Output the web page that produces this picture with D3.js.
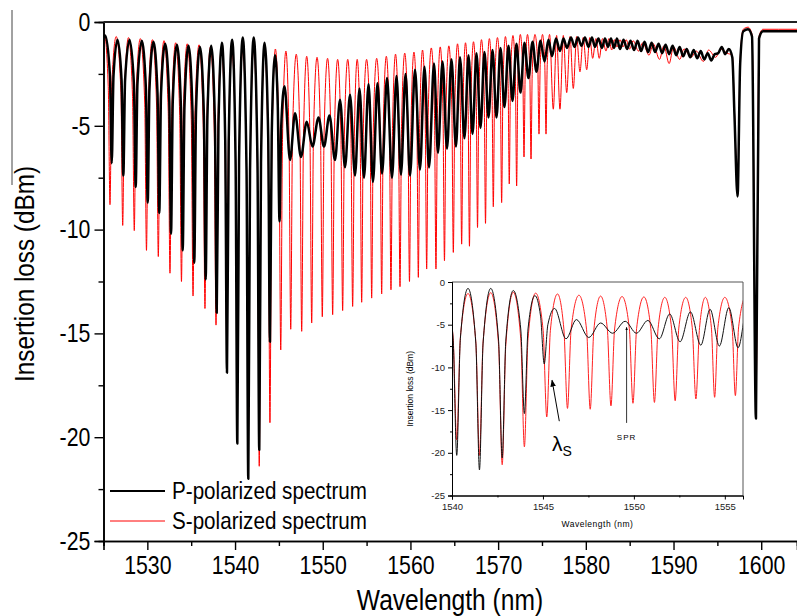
<!DOCTYPE html>
<html><head><meta charset="utf-8">
<script src="https://cdn.jsdelivr.net/npm/d3@7"></script>
<style>body{margin:0;background:#fff} svg{display:block}</style>
</head><body><svg id="c" width="797" height="616"></svg>
<script>
// ---------------- data ----------------
const xTicks = [1530, 1540, 1550, 1560, 1570, 1580, 1590, 1600];
const xMinor = [1525, 1535, 1545, 1555, 1565, 1575, 1585, 1595];
const yTicks = [0, -5, -10, -15, -20, -25];
const yMinor = [-2.5, -7.5, -12.5, -17.5, -22.5];
const insetXTicks = [1540, 1545, 1550, 1555];
const insetXMinor = [1542.5, 1547.5, 1552.5];
const insetYTicks = [0, -5, -10, -15, -20, -25];
const insetYMinor = [-2.5, -7.5, -12.5, -17.5, -22.5];
const seriesNames = ["P-polarized spectrum", "S-polarized spectrum"];

// S-polarized spectrum: wavelength (nm) of peaks / dips and insertion loss (dBm)
const sWl = [1525.0,1525.1,1525.74,1526.45,1527.19,1527.85,1528.51,1529.2,1529.9,1530.58,
  1531.25,1531.9,1532.58,1533.23,1533.89,1534.55,1535.21,1535.9,1536.57,1537.2,
  1537.83,1538.45,1539.05,1539.65,1540.26,1540.88,1541.51,1542.13,1542.76,1543.37,
  1543.98,1544.6,1545.21,1545.8,1546.35,1546.98,1547.6,1548.17,1548.74,1549.35,
  1549.95,1550.55,1551.13,1551.7,1552.27,1552.85,1553.41,1553.93,1554.44,1555.0,
  1555.58,1556.15,1556.72,1557.25,1557.78,1558.3,1558.81,1559.35,1559.89,1560.4,
  1560.9,1561.38,1561.85,1562.38,1562.91,1563.4,1563.88,1564.38,1564.89,1565.37,
  1565.84,1566.28,1566.73,1567.19,1567.65,1568.1,1568.56,1569.0,1569.45,1569.92,
  1570.4,1570.83,1571.27,1571.69,1572.11,1572.53,1572.95,1573.35,1573.75,1574.2,
  1574.66,1575.06,1575.46,1575.87,1576.29,1576.67,1577.05,1577.43,1577.82,1578.2,
  1578.57,1578.95,1579.33,1579.7,1580.1,1580.45,1580.78,1581.15,1581.53,1581.9,
  1582.3,1582.63,1582.95,1583.25,1583.55,1583.9,1584.24,1584.6,1585.0,1585.4,
  1586.0,1586.5,1587.2,1587.7,1588.4,1588.9,1589.5,1590.0,1590.7,1591.2,
  1592.0,1592.6,1593.4,1594.0,1594.8,1595.4,1596.1,1596.7,1596.95,1597.3,
  1597.6,1597.95,1598.5,1598.95,1599.4,1599.75,1600.2,1602.0,1604.1];
const sDb = [-0.7,-0.6,-8.8,-0.7,-9.8,-0.75,-10.05,-0.8,-11.0,-0.85,
  -11.3,-0.9,-12.1,-1.0,-12.5,-1.05,-13.2,-1.1,-13.8,-1.2,
  -14.6,-1.3,-15.3,-1.4,-18.5,-1.35,-20.3,-1.25,-21.4,-1.2,
  -19.3,-1.3,-15.8,-1.4,-14.8,-1.55,-14.9,-1.65,-14.5,-1.7,
  -14.2,-1.75,-14.1,-1.8,-13.9,-1.8,-13.7,-1.8,-13.5,-1.8,
  -13.3,-1.75,-13.1,-1.65,-12.9,-1.55,-12.75,-1.5,-12.5,-1.45,
  -12.3,-1.35,-11.9,-1.25,-11.9,-1.2,-11.5,-1.15,-11.1,-1.05,
  -10.7,-1.0,-10.8,-0.95,-9.9,-0.85,-9.7,-0.8,-8.9,-0.75,
  -8.7,-0.7,-7.8,-0.65,-7.9,-0.6,-6.5,-0.6,-6.6,-0.6,
  -5.4,-0.6,-5.4,-0.6,-4.2,-0.65,-4.2,-0.65,-3.4,-0.7,
  -3.2,-0.7,-2.4,-0.75,-2.3,-0.75,-1.75,-0.8,-1.75,-0.8,
  -1.4,-0.8,-1.35,-0.85,-1.2,-0.85,-1.2,-0.85,-1.3,-0.9,
  -1.4,-1.0,-1.6,-1.05,-1.8,-1.15,-2.0,-1.2,-1.8,-1.3,
  -1.7,-1.4,-1.9,-1.35,-1.7,-1.3,-1.5,-1.6,-4.3,-8.0,
  -1.8,-0.35,-0.25,-0.6,-18.5,-0.7,-0.35,-0.35,-0.35];
// S-polarized: points on the flanks of each resonance dip
const sFlankWl = [1525.54,1525.94,1526.99,1527.39,1528.31,1528.71,1529.7,1530.1,1531.05,1531.45,
  1532.38,1532.78,1533.69,1534.09,1535.01,1535.41,1536.37,1536.77,1537.63,1538.03,
  1538.85,1539.25,1540.06,1540.46,1541.31,1541.71,1542.56,1542.96,1543.78,1544.18,
  1545.01,1545.41,1546.15,1546.55,1547.4,1547.8,1548.54,1548.94,1549.75,1550.15,
  1550.93,1551.33,1552.07,1552.47,1553.21,1553.61,1554.26,1554.62,1555.4,1555.76,
  1556.54,1556.9,1557.6,1557.96,1558.63,1558.99,1559.71,1560.07,1560.73,1561.07,
  1561.68,1562.02,1562.74,1563.08,1563.71,1564.05,1564.72,1565.06,1565.68,1566.0,
  1566.57,1566.89,1567.5,1567.8,1568.41,1568.71,1569.3,1569.6,1570.25,1570.55,
  1571.13,1571.41,1571.97,1572.25,1572.81,1573.09,1573.61,1573.89,1574.52,1574.8,
  1575.32,1575.6];
const sFlankDb = [-3.1,-3.1,-3.4,-3.4,-3.6,-3.6,-3.9,-3.9,-4.0,-4.0,
  -4.3,-4.3,-4.5,-4.5,-4.7,-4.7,-4.95,-4.95,-5.25,-5.25,
  -5.55,-5.55,-6.5,-6.5,-7.0,-7.0,-7.3,-7.3,-6.65,-6.65,
  -5.65,-5.65,-5.5,-5.5,-5.6,-5.6,-5.5,-5.5,-5.45,-5.45,
  -5.45,-5.45,-5.4,-5.4,-5.35,-5.35,-5.3,-5.3,-5.25,-5.25,
  -5.1,-5.1,-5.0,-5.0,-4.9,-4.9,-4.8,-4.8,-4.65,-4.65,
  -4.5,-4.5,-4.4,-4.4,-4.3,-4.3,-4.1,-4.1,-3.9,-3.9,
  -3.9,-3.9,-3.6,-3.6,-3.5,-3.5,-3.2,-3.2,-3.1,-3.1,
  -2.8,-2.8,-2.8,-2.8,-2.4,-2.4,-2.4,-2.4,-2.05,-2.05,
  -2.05,-2.05];

// P-polarized spectrum
const pWl = [1525.0,1525.2,1525.94,1526.6,1527.26,1527.97,1528.67,1529.36,1530.04,1530.7,
  1531.36,1532.03,1532.7,1533.37,1534.03,1534.69,1535.35,1536.0,1536.65,1537.28,
  1537.91,1538.5,1539.08,1539.67,1540.26,1540.88,1541.51,1542.13,1542.76,1543.37,
  1543.98,1544.56,1545.07,1545.64,1546.27,1546.84,1547.52,1548.17,1548.83,1549.52,
  1550.14,1550.77,1551.4,1551.97,1552.54,1553.11,1553.68,1554.19,1554.7,1555.22,
  1555.73,1556.24,1556.76,1557.33,1557.9,1558.41,1558.92,1559.44,1559.95,1560.52,
  1561.09,1561.6,1562.12,1562.69,1563.14,1563.66,1564.17,1564.68,1565.19,1565.65,
  1566.16,1566.62,1567.08,1567.53,1567.99,1568.44,1568.9,1569.36,1569.81,1570.27,
  1570.72,1571.18,1571.64,1572.09,1572.55,1573.0,1573.46,1573.92,1574.37,1574.83,
  1575.29,1575.74,1576.14,1576.6,1577.05,1577.45,1577.85,1578.31,1578.71,1579.1,
  1579.5,1579.9,1580.3,1580.7,1581.04,1581.44,1581.84,1582.18,1582.53,1582.87,
  1583.21,1583.55,1583.89,1584.3,1584.7,1585.1,1585.5,1585.9,1586.3,1586.7,
  1587.1,1587.5,1587.9,1588.3,1588.7,1589.1,1589.5,1589.9,1590.3,1590.7,
  1591.1,1591.5,1591.9,1592.3,1592.7,1593.1,1593.5,1593.9,1594.3,1594.7,
  1595.1,1595.5,1595.9,1596.3,1596.7,1596.95,1597.3,1597.6,1597.95,1598.5,
  1598.95,1599.4,1599.75,1600.2,1602.0,1604.1];
const pDb = [-0.75,-0.65,-6.8,-0.85,-7.4,-0.85,-7.95,-0.9,-8.7,-0.95,
  -9.2,-1.05,-10.2,-1.1,-11.0,-1.15,-11.6,-1.2,-12.4,-1.15,
  -14.0,-1.0,-16.9,-0.85,-20.3,-0.75,-22.0,-0.75,-20.6,-1.0,
  -15.4,-1.6,-9.6,-3.1,-6.65,-4.4,-6.5,-4.8,-6.0,-4.6,
  -6.0,-4.5,-6.65,-3.75,-7.0,-3.5,-7.4,-3.2,-7.5,-3.0,
  -7.7,-2.95,-7.3,-2.7,-7.5,-2.6,-7.35,-2.5,-7.4,-2.3,
  -7.1,-2.15,-7.0,-2.0,-6.3,-1.9,-6.1,-1.8,-6.0,-1.7,
  -5.6,-1.6,-5.4,-1.5,-5.1,-1.45,-4.6,-1.35,-4.6,-1.25,
  -4.1,-1.15,-3.8,-1.05,-3.4,-1.0,-2.7,-0.95,-2.4,-0.9,
  -1.9,-0.85,-1.65,-0.8,-1.4,-0.8,-1.25,-0.75,-1.2,-0.75,
  -1.15,-0.75,-1.2,-0.75,-1.2,-0.8,-1.25,-0.8,-1.2,-0.8,
  -1.25,-0.8,-1.3,-0.85,-1.3,-0.9,-1.35,-0.9,-1.4,-0.95,
  -1.45,-1.0,-1.45,-1.05,-1.5,-1.1,-1.55,-1.15,-1.6,-1.2,
  -1.65,-1.3,-1.7,-1.35,-1.75,-1.4,-1.8,-1.5,-1.85,-1.55,
  -1.5,-1.2,-1.55,-1.3,-1.7,-4.5,-8.4,-2.0,-0.45,-0.35,
  -0.7,-19.1,-0.8,-0.45,-0.45,-0.45];
// P-polarized: points on the flanks of the deep dips
const pFlankWl = [1525.74,1526.14,1527.06,1527.46,1528.47,1528.87,1529.84,1530.24,1531.16,1531.56,
  1532.5,1532.9,1533.83,1534.23,1535.15,1535.55,1536.45,1536.85,1537.71,1538.11,
  1538.88,1539.28,1540.06,1540.46,1541.31,1541.71,1542.56,1542.96,1543.78,1544.18,
  1544.87,1545.27];
const pFlankDb = [-2.6,-2.6,-2.8,-2.8,-3.0,-3.0,-3.25,-3.25,-3.45,-3.45,
  -3.8,-3.8,-4.1,-4.1,-4.3,-4.3,-4.55,-4.55,-4.95,-4.95,
  -5.7,-5.7,-6.65,-6.65,-7.15,-7.15,-6.8,-6.8,-5.5,-5.5,
  -4.0,-5.0];

// ---------------- drawing ----------------
const svg = d3.select("#c");
const FONT = "'Liberation Sans',Arial,sans-serif";
const NARROW = 0.82;   // the reference lettering is a condensed sans
const byWl = (a, b) => a[0] - b[0];
const sData = d3.zip(sWl, sDb).concat(d3.zip(sFlankWl, sFlankDb)).sort(byWl);
const pData = d3.zip(pWl, pDb).concat(d3.zip(pFlankWl, pFlankDb)).sort(byWl);

const L = 103.5, R = 797, T = 22, B = 541;
const x = d3.scaleLinear().domain([1525, 1604.08]).range([L, R]);
const y = d3.scaleLinear().domain([-25, 0]).range([B, T]);
const defs = svg.append("defs");
defs.append("clipPath").attr("id", "mainClip")
  .append("rect").attr("x", L).attr("y", T - 2).attr("width", R - L).attr("height", B - T + 2);

const line = (sx, sy) => d3.line().x(d => sx(d[0])).y(d => sy(d[1])).curve(d3.curveMonotoneX);

const gMain = svg.append("g").attr("clip-path", "url(#mainClip)");
gMain.append("path").datum(sData).attr("d", line(x, y)).attr("fill", "none")
  .attr("stroke", "#ff0000").attr("stroke-width", 1);
gMain.append("path").datum(pData).attr("d", line(x, y)).attr("fill", "none")
  .attr("stroke", "#000").attr("stroke-width", 2.5).attr("stroke-linejoin", "round");

// axes
const fmt = d => String(d);
const gy = svg.append("g").attr("transform", `translate(${L},0)`)
  .call(d3.axisLeft(y).tickValues(yTicks).tickSize(9).tickPadding(7).tickFormat(fmt));
svg.append("g").attr("transform", `translate(${L},0)`)
  .call(d3.axisLeft(y).tickValues(yMinor).tickSize(5).tickFormat(""));
const gx = svg.append("g").attr("transform", `translate(0,${B})`)
  .call(d3.axisBottom(x).tickValues(xTicks).tickSize(9).tickPadding(6).tickFormat(fmt));
svg.append("g").attr("transform", `translate(0,${B})`)
  .call(d3.axisBottom(x).tickValues(xMinor).tickSize(5).tickFormat(""));
svg.selectAll(".domain").attr("stroke-width", 1.6);
svg.selectAll(".tick line").attr("stroke-width", 1.4);
gy.selectAll("text").attr("font-family", FONT).attr("font-size", 26).attr("fill", "#000")
  .attr("transform", `scale(${NARROW},1)`);
gx.selectAll("text").attr("font-family", FONT).attr("font-size", 26).attr("fill", "#000")
  .attr("transform", `scale(${NARROW},1)`);
// top frame
svg.append("line").attr("x1", L).attr("x2", R).attr("y1", T).attr("y2", T)
  .attr("stroke", "#222").attr("stroke-width", 1.8);

svg.append("text").attr("transform", `translate(450,610) scale(${NARROW},1)`).attr("text-anchor", "middle")
  .attr("font-family", FONT).attr("font-size", 30).text("Wavelength (nm)");
svg.append("text").attr("transform", `translate(34,274) rotate(-90) scale(0.9,1)`).attr("text-anchor", "middle")
  .attr("font-family", FONT).attr("font-size", 27).text("Insertion loss (dBm)");
svg.append("line").attr("x1", 12).attr("x2", 12).attr("y1", 10).attr("y2", 185)
  .attr("stroke", "#444").attr("stroke-width", 1);

// legend
const leg = [{name: seriesNames[0], color: "#000", w: 2}, {name: seriesNames[1], color: "#ff0000", w: 1}];
leg.forEach((d, i) => {
  const yy = 491 + i * 30;
  svg.append("line").attr("x1", 110).attr("x2", 165).attr("y1", yy).attr("y2", yy)
    .attr("stroke", d.color).attr("stroke-width", d.w);
  svg.append("text").attr("transform", `translate(172,${yy + 8}) scale(0.86,1)`).attr("font-family", FONT)
    .attr("font-size", 24).text(d.name);
});

// ---------------- inset ----------------
const IL = 452, IR = 743, IT = 282, IB = 495.5;
const ix = d3.scaleLinear().domain([1540, 1556]).range([IL, IR]);
const iy = d3.scaleLinear().domain([-25, 0]).range([IB, IT]);
svg.append("rect").attr("x", IL).attr("y", IT).attr("width", IR - IL).attr("height", IB - IT).attr("fill", "#fff");
defs.append("clipPath").attr("id", "insetClip")
  .append("rect").attr("x", IL).attr("y", IT).attr("width", IR - IL).attr("height", IB - IT);
const gIn = svg.append("g").attr("clip-path", "url(#insetClip)");
gIn.append("path").datum(sData).attr("d", line(ix, iy)).attr("fill", "none")
  .attr("stroke", "#ff2020").attr("stroke-width", 1);
gIn.append("path").datum(pData).attr("d", line(ix, iy)).attr("fill", "none")
  .attr("stroke", "#111").attr("stroke-width", 1);
svg.append("line").attr("x1", IL).attr("x2", IR).attr("y1", IT).attr("y2", IT).attr("stroke", "#555");
svg.append("line").attr("x1", IR).attr("x2", IR).attr("y1", IT).attr("y2", IB).attr("stroke", "#555");
const igy = svg.append("g").attr("transform", `translate(${IL},0)`)
  .call(d3.axisLeft(iy).tickValues(insetYTicks).tickSize(4).tickPadding(3).tickFormat(fmt));
svg.append("g").attr("transform", `translate(${IL},0)`)
  .call(d3.axisLeft(iy).tickValues(insetYMinor).tickSize(2).tickFormat(""));
const igx = svg.append("g").attr("transform", `translate(0,${IB})`)
  .call(d3.axisBottom(ix).tickValues(insetXTicks).tickSize(4).tickPadding(4).tickFormat(fmt));
svg.append("g").attr("transform", `translate(0,${IB})`)
  .call(d3.axisBottom(ix).tickValues(insetXMinor).tickSize(2).tickFormat(""));
[igy, igx].forEach(g => g.selectAll("text").attr("font-family", FONT)
  .attr("font-size", 9.5).attr("fill", "#222"));
svg.append("text").attr("x", (IL + IR) / 2).attr("y", 527).attr("text-anchor", "middle")
  .attr("font-family", FONT).attr("font-size", 8.5)
  .attr("letter-spacing", 0.5).text("Wavelength (nm)");
svg.append("text").attr("transform", `translate(413,${(IT + IB) / 2}) rotate(-90)`).attr("text-anchor", "middle")
  .attr("font-family", FONT).attr("font-size", 8.5).text("Insertion loss (dBm)");

// annotations
defs.append("marker").attr("id", "arr").attr("viewBox", "0 0 10 10").attr("refX", 9).attr("refY", 5)
  .attr("markerWidth", 7).attr("markerHeight", 7).attr("orient", "auto")
  .append("path").attr("d", "M0,1 L10,5 L0,9 Z").attr("fill", "#000");
defs.append("marker").attr("id", "arr2").attr("viewBox", "0 0 10 10").attr("refX", 9).attr("refY", 5)
  .attr("markerWidth", 4).attr("markerHeight", 4).attr("orient", "auto")
  .append("path").attr("d", "M0,1 L10,5 L0,9 Z").attr("fill", "#000");
svg.append("line").attr("x1", ix(1545.9)).attr("y1", iy(-16.3)).attr("x2", ix(1545.5)).attr("y2", iy(-11.5))
  .attr("stroke", "#000").attr("stroke-width", 1).attr("marker-end", "url(#arr)");
const lam = svg.append("text").attr("x", ix(1545.5)).attr("y", iy(-19.8))
  .attr("font-family", FONT).attr("font-size", 21).text("λ");
lam.append("tspan").attr("dy", 5).attr("font-size", 14).text("S");
svg.append("line").attr("x1", ix(1549.6)).attr("y1", iy(-16.5)).attr("x2", ix(1549.6)).attr("y2", iy(-5.3))
  .attr("stroke", "#000").attr("stroke-width", 0.8).attr("marker-end", "url(#arr2)");
svg.append("text").attr("x", ix(1549.6)).attr("y", iy(-18.5)).attr("text-anchor", "middle")
  .attr("font-family", FONT).attr("font-size", 8)
  .attr("letter-spacing", 1).text("SPR");
</script></body></html>
